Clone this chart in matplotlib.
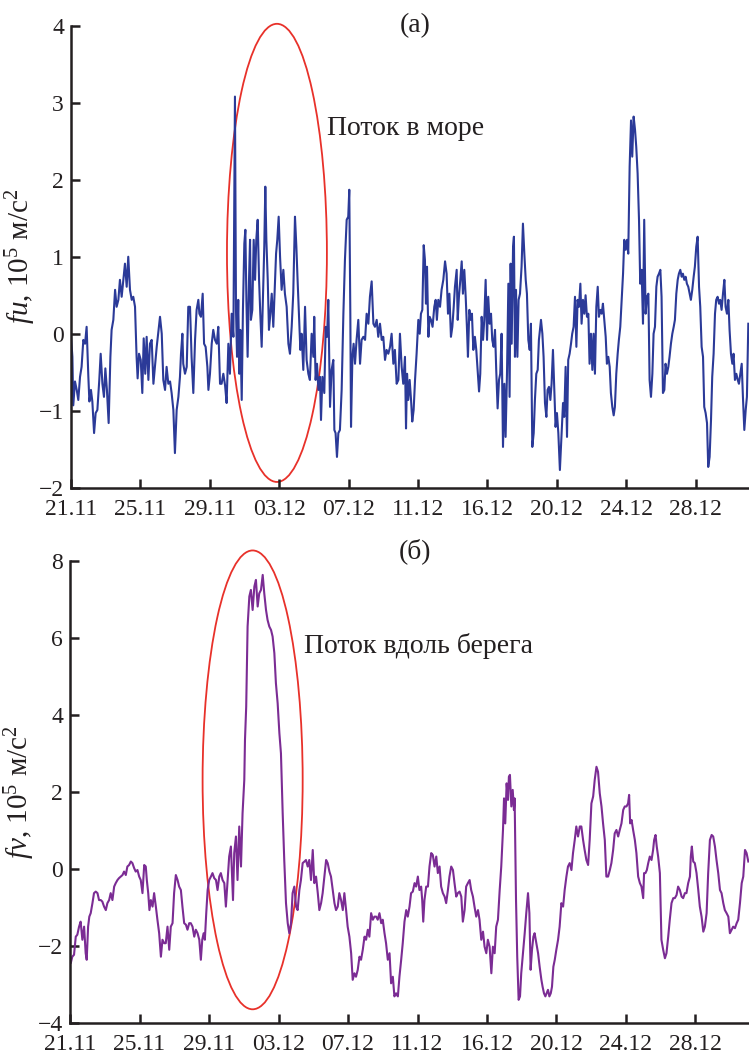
import matplotlib
matplotlib.use("Agg")
import matplotlib.pyplot as plt
from matplotlib.patches import Ellipse
import numpy as np

plt.rcParams['font.family'] = ['Liberation Serif', 'DejaVu Serif']
plt.rcParams['mathtext.fontset'] = 'custom'
plt.rcParams['mathtext.rm'] = 'Liberation Serif'
plt.rcParams['mathtext.it'] = 'Liberation Serif:italic'

# ось времени: сутки от 21.11, подписи через 4 суток
tick_days = [0, 4, 8, 12, 16, 20, 24, 28, 32, 36]
tick_labels = ['21.11', '25.11', '29.11', '03.12', '07.12',
               '11.12', '16.12', '20.12', '24.12', '28.12']

# (а) fu, 10^5 м/с^2
fu_day = [
    0.00, 0.08, 0.13, 0.23, 0.33, 0.42, 0.52, 0.61, 0.71, 0.81, 0.90, 1.00,
    1.06, 1.15, 1.23, 1.33, 1.42, 1.52, 1.63, 1.71, 1.81, 1.90, 1.98, 2.07,
    2.17, 2.27, 2.34, 2.44, 2.54, 2.63, 2.73, 2.82, 2.92, 3.02, 3.11, 3.21,
    3.30, 3.40, 3.50, 3.59, 3.69, 3.78, 3.84, 3.92, 4.02, 4.11, 4.19, 4.28,
    4.36, 4.46, 4.55, 4.65, 4.75, 4.84, 4.94, 5.13, 5.23, 5.32, 5.42, 5.51,
    5.61, 5.71, 5.80, 5.90, 5.99, 6.09, 6.19, 6.28, 6.34, 6.42, 6.47, 6.57,
    6.67, 6.76, 6.86, 6.95, 7.05, 7.15, 7.24, 7.34, 7.40, 7.49, 7.59, 7.67,
    7.76, 7.86, 7.92, 8.01, 8.11, 8.20, 8.30, 8.40, 8.49, 8.59, 8.68, 8.78,
    8.88, 8.97, 9.07, 9.16, 9.26, 9.36, 9.45, 9.51, 9.57, 9.64, 9.70, 9.76,
    9.84, 9.91, 9.99, 10.05, 10.11, 10.18, 10.26, 10.32, 10.37, 10.45, 10.53, 10.61,
    10.68, 10.76, 10.84, 10.91, 10.99, 11.07, 11.14, 11.20, 11.26, 11.34, 11.41, 11.49,
    11.57, 11.66, 11.76, 11.82, 11.89, 11.97, 12.05, 12.14, 12.24, 12.33, 12.43, 12.53,
    12.62, 12.72, 12.81, 12.91, 12.99, 13.06, 13.14, 13.22, 13.29, 13.39, 13.49, 13.58,
    13.68, 13.77, 13.87, 13.97, 14.02, 14.10, 14.18, 14.26, 14.35, 14.41, 14.49, 14.60,
    14.68, 14.76, 14.83, 14.93, 15.02, 15.12, 15.18, 15.25, 15.33, 15.41, 15.50, 15.60,
    15.70, 15.79, 15.89, 15.98, 16.04, 16.10, 16.14, 16.22, 16.29, 16.37, 16.46, 16.56,
    16.66, 16.75, 16.85, 16.95, 17.04, 17.14, 17.23, 17.33, 17.43, 17.52, 17.62, 17.71,
    17.81, 17.91, 18.00, 18.10, 18.19, 18.29, 18.39, 18.48, 18.58, 18.67, 18.77, 18.87,
    18.96, 19.06, 19.15, 19.25, 19.31, 19.37, 19.44, 19.52, 19.60, 19.67, 19.75, 19.83,
    19.92, 20.02, 20.10, 20.17, 20.25, 20.33, 20.40, 20.46, 20.52, 20.60, 20.67, 20.75,
    20.84, 20.94, 21.02, 21.09, 21.17, 21.27, 21.36, 21.46, 21.56, 21.65, 21.73, 21.81,
    21.90, 21.98, 22.06, 22.13, 22.23, 22.29, 22.36, 22.44, 22.52, 22.59, 22.67, 22.75,
    22.82, 22.88, 22.96, 23.04, 23.11, 23.19, 23.28, 23.36, 23.44, 23.52, 23.59, 23.67,
    23.75, 23.82, 23.90, 23.98, 24.05, 24.13, 24.21, 24.28, 24.36, 24.44, 24.51, 24.59,
    24.67, 24.74, 24.82, 24.90, 24.98, 25.05, 25.13, 25.21, 25.28, 25.34, 25.40, 25.48,
    25.53, 25.59, 25.65, 25.73, 25.80, 25.88, 25.97, 26.05, 26.13, 26.21, 26.28, 26.36,
    26.44, 26.51, 26.59, 26.67, 26.74, 26.82, 26.90, 26.97, 27.09, 27.17, 27.24, 27.32,
    27.40, 27.47, 27.55, 27.63, 27.70, 27.78, 27.86, 27.93, 28.01, 28.09, 28.18, 28.28,
    28.36, 28.43, 28.51, 28.59, 28.66, 28.74, 28.82, 28.89, 28.97, 29.05, 29.13, 29.20,
    29.28, 29.36, 29.43, 29.51, 29.59, 29.66, 29.74, 29.82, 29.89, 29.97, 30.05, 30.12,
    30.20, 30.28, 30.36, 30.43, 30.51, 30.59, 30.66, 30.74, 30.82, 30.89, 30.97, 31.05,
    31.12, 31.20, 31.28, 31.35, 31.43, 31.51, 31.58, 31.66, 31.74, 31.82, 31.89, 31.97,
    32.05, 32.12, 32.20, 32.28, 32.35, 32.43, 32.51, 32.58, 32.66, 32.74, 32.81, 32.89,
    32.97, 33.04, 33.12, 33.20, 33.28, 33.35, 33.43, 33.51, 33.58, 33.66, 33.74, 33.81,
    33.89, 33.97, 34.04, 34.12, 34.20, 34.27, 34.35, 34.43, 34.50, 34.58, 34.66, 34.74,
    34.81, 34.89, 34.97, 35.04, 35.12, 35.20, 35.27, 35.35, 35.43, 35.50, 35.58, 35.66,
    35.73, 35.81, 35.89, 35.96, 36.04, 36.12, 36.20, 36.27, 36.35, 36.43, 36.50, 36.58,
    36.66, 36.73, 36.81, 36.89, 36.96, 37.04, 37.12, 37.19, 37.27, 37.35, 37.42, 37.50,
    37.58, 37.66, 37.73, 37.81, 37.89, 37.96, 38.04, 38.12, 38.19, 38.27, 38.35, 38.43,
    38.50, 38.58, 38.66, 38.73, 38.81, 38.89, 38.96, 39.04,
]
fu_val = [
    -0.04, -0.30, -0.93, -0.62, -0.73, -0.86, -0.56, -0.43, -0.08, -0.13, 0.09, -0.56,
    -0.88, -0.73, -0.88, -1.29, -1.03, -0.99, -0.60, -0.26, -0.65, -0.82, -0.45, -0.73,
    -1.16, -0.30, 0.05, 0.18, 0.57, 0.35, 0.44, 0.70, 0.48, 0.70, 0.91, 0.61,
    1.00, 0.57, 0.44, 0.48, 0.35, -0.30, -0.58, -0.26, -0.34, -0.77, -0.06, -0.52,
    -0.04, -0.60, -0.13, -0.08, -0.65, -0.43, -0.17, 0.22, 0.00, -0.60, -0.73, -0.43,
    -0.65, -0.62, -0.77, -0.99, -1.55, -0.99, -0.82, -0.56, -0.26, 0.00, -0.39, -0.52,
    -0.43, 0.35, 0.35, -0.30, -0.77, -0.08, 0.31, 0.44, 0.26, 0.22, 0.52, -0.13,
    -0.17, -0.43, -0.73, -0.52, -0.13, 0.05, -0.08, -0.13, 0.09, -0.65, -0.65, -0.52,
    -0.67, -0.90, -0.13, -0.52, 0.26, -0.04, 3.08, 0.31, -0.30, 0.44, -0.52, 0.05,
    -0.86, 0.31, 1.17, 1.35, 0.44, -0.30, 0.70, 1.22, 0.18, 0.31, 1.22, 0.70,
    1.22, 1.48, 0.70, 0.26, -0.17, 0.52, 1.13, 1.91, 1.22, 0.70, 0.05, 0.26,
    0.52, 0.09, 0.70, 1.04, 1.22, 1.52, 1.00, 0.57, 0.83, 0.52, 0.35, -0.13,
    -0.26, 0.09, 0.52, 1.52, 1.13, 0.70, 0.26, -0.21, 0.00, -0.47, 0.35, -0.34,
    -0.52, -0.60, 0.00, -0.30, 0.22, -0.60, -0.39, -0.73, -0.56, -1.12, -0.56, -0.77,
    0.09, -0.04, 0.44, -0.95, -0.47, -0.34, -1.25, -1.29, -1.60, -1.29, -1.25, -0.73,
    0.26, 0.96, 1.48, 1.52, 1.87, 0.26, -1.21, -0.30, -0.13, -0.39, -0.08, 0.18,
    -0.39, -0.08, -0.04, -0.08, 0.26, 0.13, 0.48, 0.68, 0.13, 0.09, 0.18, -0.04,
    0.13, -0.08, -0.04, -0.34, -0.21, -0.26, -0.17, 0.00, -0.39, -0.21, -0.65, -0.60,
    0.00, -0.43, -0.65, -0.30, -1.23, -0.52, -0.86, -0.60, -0.86, -1.14, -0.99, -0.60,
    -0.26, 0.18, 0.00, 0.26, 0.31, 1.15, 0.96, 0.39, 0.87, -0.04, 0.22, 0.18,
    0.09, 0.35, 0.44, 0.18, 0.44, 0.35, 0.57, 0.70, 0.94, 0.78, 0.26, 0.52,
    -0.04, 0.09, 0.35, 0.61, 0.83, 0.18, 0.48, 0.70, 0.94, 0.52, 0.83, 0.48,
    0.09, -0.30, 0.31, 0.18, 0.26, -0.21, -0.04, -0.21, -0.47, -0.75, -0.52, 0.22,
    -0.08, 0.18, 0.70, -0.08, 0.48, 0.13, 0.26, -0.08, -0.17, 0.05, -0.47, -0.97,
    -0.60, -0.52, 0.00, -1.47, -0.65, -1.34, -0.52, 0.65, -0.82, 0.91, -0.13, 1.13,
    1.26, -0.30, 0.57, -0.30, 0.44, 0.52, 0.87, 1.43, 1.04, 0.70, 0.52, -0.08,
    -0.21, 0.13, -1.47, -1.29, -0.86, -0.52, -0.47, -0.08, 0.18, 0.00, -0.30, -0.90,
    -1.08, -0.73, -0.69, -0.86, -0.65, -0.21, -0.73, -1.21, -1.03, -1.29, -1.77, -1.29,
    -0.90, -1.08, -0.43, -1.34, -0.34, -0.26, -0.13, 0.00, 0.09, 0.48, -0.17, 0.44,
    0.35, 0.65, 0.13, 0.44, 0.26, 0.50, 0.22, 0.26, -0.39, 0.00, -0.47, 0.00,
    -0.52, 0.35, 0.61, 0.22, 0.31, 0.26, 0.39, 0.18, -0.04, -0.39, -0.30, -0.43,
    -0.77, -0.95, -1.06, -0.95, -0.52, -0.26, -0.08, 0.09, 0.44, 0.78, 1.22, 1.09,
    1.22, 1.04, 2.17, 2.77, 2.30, 2.82, 2.65, 2.43, 2.08, 1.48, 0.65, 0.83,
    0.13, 1.48, 0.26, 0.48, 0.52, -0.60, -0.82, -0.52, 0.00, 0.09, 0.61, 0.74,
    0.78, 0.83, 0.48, -0.77, -0.73, -0.39, -0.52, -0.43, -0.30, -0.13, 0.00, 0.09,
    0.18, 0.52, 0.70, 0.78, 0.83, 0.74, 0.78, 0.70, 0.74, 0.65, 0.61, 0.52,
    0.44, 0.57, 0.74, 0.87, 1.13, 1.26, 0.61, 0.35, -0.17, -0.30, -0.95, -1.03,
    -1.16, -1.73, -1.60, -1.12, -0.56, -0.26, 0.26, 0.44, 0.48, 0.39, 0.44, 0.31,
    0.52, 0.70, 0.35, 0.26, 0.44, 0.05, -0.26, -0.39, -0.26, -0.60, -0.52, -0.60,
    -0.65, -0.52, -0.39, -0.82, -1.25, -0.99, -0.82, 0.13,
]

# (б) fv, 10^5 м/с^2
fv_day = [
    0.00, 0.04, 0.13, 0.23, 0.33, 0.42, 0.52, 0.61, 0.71, 0.81, 0.90, 0.96,
    1.04, 1.11, 1.19, 1.29, 1.38, 1.48, 1.58, 1.67, 1.77, 1.86, 1.96, 2.06,
    2.15, 2.25, 2.34, 2.44, 2.54, 2.63, 2.73, 2.82, 2.92, 3.02, 3.11, 3.21,
    3.30, 3.40, 3.50, 3.59, 3.69, 3.78, 3.88, 3.98, 4.07, 4.17, 4.27, 4.36,
    4.42, 4.50, 4.57, 4.65, 4.75, 4.84, 4.94, 5.03, 5.13, 5.23, 5.32, 5.42,
    5.51, 5.61, 5.71, 5.80, 5.90, 5.99, 6.09, 6.19, 6.28, 6.38, 6.47, 6.57,
    6.67, 6.76, 6.86, 6.95, 7.05, 7.15, 7.24, 7.34, 7.44, 7.53, 7.61, 7.69,
    7.76, 7.84, 7.92, 8.01, 8.11, 8.20, 8.30, 8.40, 8.49, 8.59, 8.68, 8.78,
    8.88, 8.97, 9.07, 9.16, 9.26, 9.32, 9.38, 9.45, 9.55, 9.64, 9.74, 9.84,
    9.93, 10.03, 10.07, 10.14, 10.22, 10.32, 10.41, 10.51, 10.61, 10.70, 10.80, 10.89,
    10.99, 11.09, 11.18, 11.28, 11.37, 11.47, 11.57, 11.66, 11.76, 11.85, 11.95, 12.05,
    12.14, 12.24, 12.33, 12.43, 12.53, 12.62, 12.72, 12.81, 12.91, 13.01, 13.10, 13.20,
    13.29, 13.39, 13.49, 13.58, 13.68, 13.77, 13.87, 13.97, 14.06, 14.16, 14.26, 14.35,
    14.45, 14.54, 14.64, 14.74, 14.83, 14.93, 15.02, 15.12, 15.22, 15.31, 15.41, 15.50,
    15.60, 15.70, 15.79, 15.89, 15.98, 16.08, 16.18, 16.27, 16.37, 16.46, 16.56, 16.66,
    16.75, 16.85, 16.95, 17.04, 17.14, 17.23, 17.33, 17.43, 17.52, 17.62, 17.71, 17.81,
    17.91, 18.00, 18.10, 18.19, 18.29, 18.39, 18.48, 18.58, 18.67, 18.77, 18.87, 18.96,
    19.06, 19.15, 19.25, 19.35, 19.44, 19.54, 19.63, 19.73, 19.83, 19.92, 20.02, 20.11,
    20.21, 20.27, 20.33, 20.40, 20.50, 20.60, 20.69, 20.79, 20.88, 20.98, 21.08, 21.17,
    21.27, 21.36, 21.46, 21.56, 21.65, 21.75, 21.84, 21.94, 22.04, 22.13, 22.23, 22.32,
    22.42, 22.52, 22.61, 22.71, 22.80, 22.90, 23.00, 23.09, 23.19, 23.28, 23.38, 23.48,
    23.57, 23.67, 23.77, 23.86, 23.96, 24.05, 24.15, 24.25, 24.34, 24.44, 24.53, 24.63,
    24.73, 24.82, 24.92, 24.98, 25.05, 25.13, 25.21, 25.26, 25.32, 25.40, 25.48, 25.55,
    25.59, 25.67, 25.74, 25.82, 25.90, 25.97, 26.07, 26.17, 26.26, 26.36, 26.44, 26.51,
    26.59, 26.67, 26.74, 26.84, 26.94, 27.03, 27.13, 27.20, 27.28, 27.36, 27.43, 27.51,
    27.59, 27.67, 27.74, 27.82, 27.90, 27.99, 28.09, 28.18, 28.28, 28.38, 28.47, 28.57,
    28.66, 28.76, 28.86, 28.95, 29.05, 29.14, 29.24, 29.34, 29.43, 29.53, 29.62, 29.72,
    29.82, 29.91, 30.01, 30.11, 30.20, 30.30, 30.39, 30.49, 30.59, 30.68, 30.78, 30.87,
    30.97, 31.07, 31.16, 31.26, 31.35, 31.45, 31.55, 31.64, 31.74, 31.84, 31.93, 32.03,
    32.12, 32.18, 32.24, 32.32, 32.41, 32.51, 32.60, 32.70, 32.80, 32.89, 32.99, 33.04,
    33.12, 33.20, 33.28, 33.37, 33.47, 33.56, 33.62, 33.70, 33.77, 33.85, 33.95, 34.04,
    34.14, 34.24, 34.33, 34.43, 34.52, 34.62, 34.72, 34.81, 34.91, 35.00, 35.10, 35.20,
    35.29, 35.39, 35.48, 35.58, 35.68, 35.73, 35.79, 35.87, 35.96, 36.06, 36.16, 36.25,
    36.35, 36.45, 36.54, 36.64, 36.73, 36.83, 36.93, 37.02, 37.12, 37.21, 37.31, 37.41,
    37.50, 37.60, 37.69, 37.79, 37.89, 37.98, 38.08, 38.17, 38.27, 38.37, 38.46, 38.56,
    38.66, 38.75, 38.85, 38.94, 39.04,
]
fv_val = [
    -2.35, -2.44, -2.27, -2.22, -1.75, -1.70, -1.49, -1.36, -1.83, -1.49, -2.18, -2.35,
    -1.49, -1.23, -1.14, -0.88, -0.62, -0.58, -0.62, -0.80, -0.80, -0.84, -0.97, -1.06,
    -0.88, -0.80, -0.62, -0.80, -0.45, -0.36, -0.28, -0.23, -0.19, -0.15, -0.06, -0.15,
    0.07, 0.11, 0.20, 0.16, 0.03, -0.06, -0.02, -0.19, -0.28, -0.62, 0.11, 0.07,
    -0.28, -0.62, -1.06, -0.80, -0.97, -0.62, -0.97, -1.31, -1.66, -2.27, -1.83, -1.92,
    -1.92, -1.49, -2.09, -1.49, -1.40, -0.62, -0.15, -0.28, -0.45, -0.54, -0.97, -1.40,
    -1.44, -1.57, -1.40, -1.40, -1.49, -1.75, -1.57, -1.66, -1.83, -2.35, -1.83, -1.66,
    -1.83, -1.14, -0.54, -0.28, -0.19, -0.10, -0.23, -0.28, -0.54, -0.19, -0.10, -0.28,
    -0.36, -0.97, -0.28, 0.33, 0.59, -0.10, -0.80, 0.42, 0.85, -0.28, 1.11, 0.07,
    1.45, 2.32, 3.36, 4.22, 6.30, 7.08, 7.25, 6.73, 7.34, 7.51, 6.82, 7.16,
    7.25, 7.64, 7.16, 6.73, 6.47, 6.30, 6.21, 6.04, 5.61, 4.83, 4.31, 3.53,
    3.01, 1.45, 0.24, -0.88, -1.40, -1.66, -1.40, -0.62, -0.45, -0.97, -1.06, -0.54,
    -0.28, 0.16, 0.20, 0.24, 0.07, 0.24, -0.28, 0.50, -0.36, -0.19, -0.62, -1.06,
    -0.88, -0.62, -0.19, 0.24, 0.16, -0.06, -0.19, -0.54, -0.88, -1.06, -0.97, -0.62,
    -0.80, -1.06, -0.62, -1.06, -1.49, -1.75, -2.18, -2.87, -2.70, -2.79, -2.61, -2.27,
    -2.35, -2.09, -1.75, -1.83, -1.57, -1.75, -1.14, -1.31, -1.23, -1.23, -1.31, -1.14,
    -1.40, -1.31, -1.66, -1.92, -2.35, -2.18, -2.96, -2.79, -3.30, -3.22, -3.30, -2.79,
    -2.35, -1.92, -1.36, -1.06, -1.23, -0.97, -0.62, -0.58, -0.36, -0.45, -0.19, -0.54,
    -0.45, -0.80, -1.36, -0.80, -0.45, -0.45, 0.07, 0.42, 0.37, 0.07, 0.33, -0.10,
    0.07, -0.45, -0.62, -0.71, -0.88, -0.54, -0.19, 0.07, -0.02, -0.36, -0.71, -0.62,
    -0.58, -0.71, -1.36, -1.06, -0.45, -0.36, -0.28, -0.54, -0.71, -0.97, -1.23, -1.06,
    -1.31, -1.83, -1.62, -2.01, -2.18, -1.83, -2.01, -2.70, -2.01, -2.18, -1.49, -1.31,
    -0.54, 0.07, 1.02, 1.84, 1.19, 2.23, 1.80, 2.40, 2.45, 1.63, 2.06, 1.54,
    1.84, -0.80, -2.27, -3.39, -3.30, -2.70, -2.18, -1.66, -1.14, -0.62, -1.14, -2.61,
    -2.09, -1.75, -1.66, -1.92, -2.18, -2.53, -2.87, -3.05, -3.22, -3.30, -3.22, -3.13,
    -3.30, -3.22, -3.05, -2.53, -2.35, -2.09, -1.83, -1.49, -0.88, -0.97, -0.54, -0.19,
    0.07, 0.16, -0.02, 0.42, 0.76, 1.11, 0.85, 1.11, 1.11, 0.76, 0.50, 0.24,
    0.11, 0.76, 1.71, 1.89, 2.32, 2.66, 2.53, 1.97, 1.63, 1.19, 0.76, -0.19,
    -0.19, -0.02, 0.16, 0.50, 0.93, 1.02, 0.85, 1.02, 1.19, 1.54, 1.63, 1.63,
    1.71, 1.93, 1.19, 1.28, 1.02, 0.76, 0.42, -0.19, -0.36, -0.45, -0.75, -0.10,
    -0.10, -0.02, 0.16, 0.33, 0.24, 0.50, 0.76, 0.89, 0.59, 0.33, -0.10, -1.83,
    -2.09, -2.31, -2.18, -1.75, -1.31, -0.88, -0.75, -0.75, -0.67, -0.45, -0.54, -0.71,
    -0.75, -0.62, -0.62, -0.36, -0.19, 0.33, 0.59, 0.20, 0.16, -0.10, -0.54, -0.97,
    -1.23, -1.62, -1.49, -1.14, -0.10, 0.76, 0.89, 0.85, 0.59, 0.24, -0.10, -0.54,
    -0.62, -0.88, -1.06, -1.14, -1.23, -1.66, -1.57, -1.49, -1.53, -1.40, -1.31, -0.88,
    -0.36, -0.19, 0.50, 0.42, 0.20,
]

ink = '#231F20'
fig = plt.figure(figsize=(7.49, 10.55), dpi=100)
ax1 = fig.add_axes([0.0948, 0.5377, 0.9052, 0.4379])
ax2 = fig.add_axes([0.0935, 0.0300, 0.9065, 0.4382])


def style(ax, yticks, ylim):
    ax.set_xlim(0, 39.08)
    ax.set_ylim(*ylim)
    ax.set_xticks(tick_days)
    ax.set_xticklabels(tick_labels)
    ax.set_yticks(yticks)
    for s in ['top', 'right']:
        ax.spines[s].set_visible(False)
    for s in ['left', 'bottom']:
        ax.spines[s].set_linewidth(1.8)
        ax.spines[s].set_color(ink)
    ax.tick_params(direction='in', length=6.5, width=1.8, labelsize=17,
                   colors=ink)
    ax.tick_params(axis='y', pad=5)
    ax.tick_params(axis='x', pad=8)


ax1.plot(fu_day, fu_val, color='#2B3A98', lw=1.5)
style(ax1, [-2, -1, 0, 1, 2, 3, 4], (-2, 4))
ax1.add_patch(Ellipse((11.87, 1.05), 5.76, 5.95, fill=False,
                      edgecolor='#E8312A', lw=1.3, clip_on=False))
ax1.text(19.83, 4.0, '(а)', fontsize=20, color=ink, ha='center', va='center')
ax1.text(14.75, 2.67, 'Поток в море', fontsize=20, color=ink, va='center')
ax1.set_ylabel(r'$fu$, 10$^5$ м/с$^2$', fontsize=21, color=ink)
ax1.yaxis.set_label_coords(-0.048, 0.5)

ax2.plot(fv_day, fv_val, color='#7B2C94', lw=1.5)
style(ax2, [-4, -2, 0, 2, 4, 6, 8], (-4, 8))
ax2.add_patch(Ellipse((10.51, 2.32), 5.76, 11.91, fill=False,
                      edgecolor='#E8312A', lw=1.3, clip_on=False))
ax2.text(19.88, 8.26, '(б)', fontsize=20, color=ink, ha='center', va='center')
ax2.text(13.49, 5.79, 'Поток вдоль берега', fontsize=20, color=ink, va='center')
ax2.set_ylabel(r'$fv$, 10$^5$ м/с$^2$', fontsize=21, color=ink)
ax2.yaxis.set_label_coords(-0.048, 0.5)

fig.savefig('out.png', dpi=100)
